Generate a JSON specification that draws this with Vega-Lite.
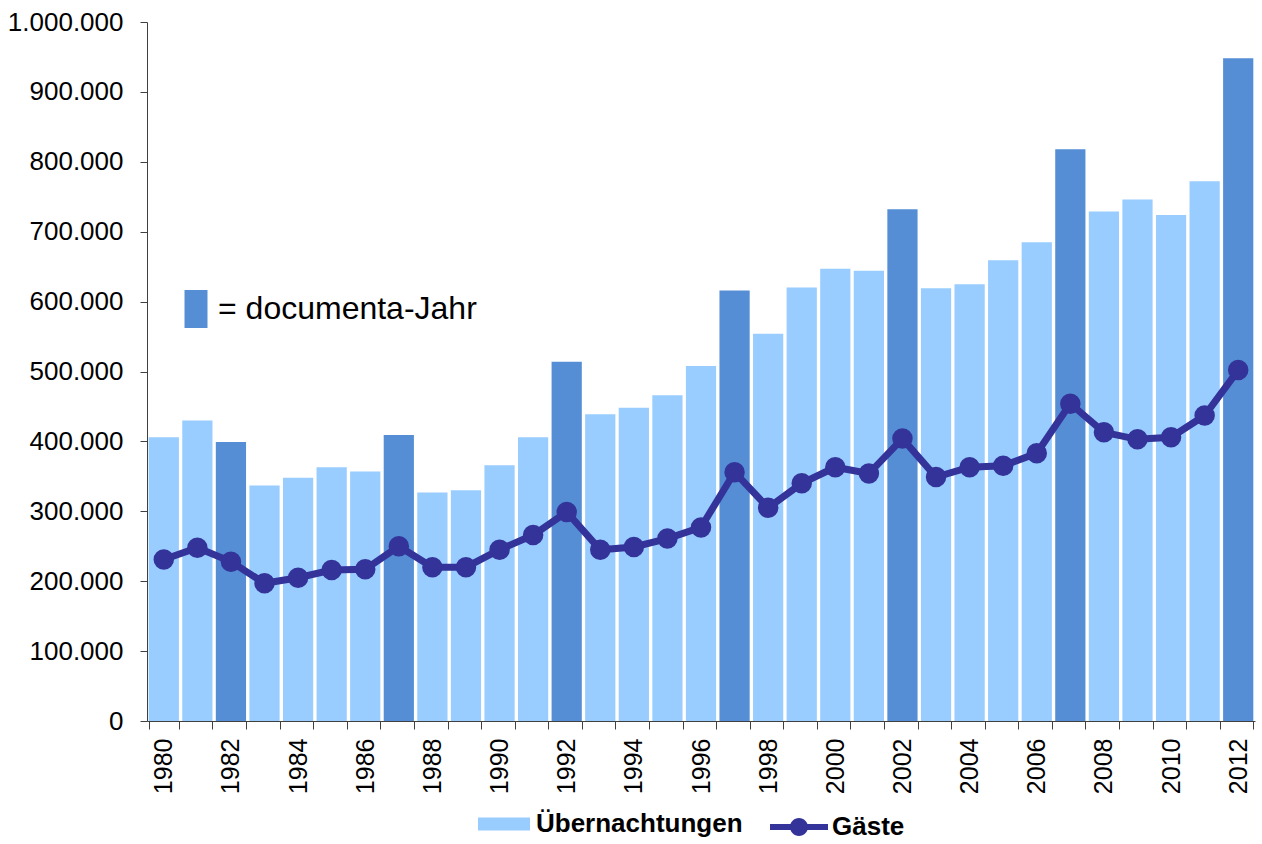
{
  "$schema": "https://vega.github.io/schema/vega-lite/v6.json",
  "width": 1108,
  "height": 699,
  "autosize": {"type": "none"},
  "padding": {"left": 147, "top": 22, "right": 7, "bottom": 123},
  "background": "white",
  "config": {
    "view": {"stroke": null},
    "font": "Liberation Sans",
    "axis": {"labelFont": "Liberation Sans", "labelColor": "#000000", "domainColor": "#404040", "tickColor": "#404040", "grid": false},
    "legend": {"labelFont": "Liberation Sans", "labelColor": "#000000", "padding": 0, "titlePadding": 0, "labelLimit": 0}
  },
  "data": {
    "values": [
      {"jahr": 1980, "uebernachtungen": 406000, "gaeste": 231000, "documenta": false},
      {"jahr": 1981, "uebernachtungen": 430000, "gaeste": 248000, "documenta": false},
      {"jahr": 1982, "uebernachtungen": 399000, "gaeste": 228000, "documenta": true},
      {"jahr": 1983, "uebernachtungen": 337000, "gaeste": 197000, "documenta": false},
      {"jahr": 1984, "uebernachtungen": 348000, "gaeste": 205000, "documenta": false},
      {"jahr": 1985, "uebernachtungen": 363000, "gaeste": 216000, "documenta": false},
      {"jahr": 1986, "uebernachtungen": 357000, "gaeste": 217000, "documenta": false},
      {"jahr": 1987, "uebernachtungen": 409000, "gaeste": 250000, "documenta": true},
      {"jahr": 1988, "uebernachtungen": 327000, "gaeste": 220000, "documenta": false},
      {"jahr": 1989, "uebernachtungen": 330000, "gaeste": 220000, "documenta": false},
      {"jahr": 1990, "uebernachtungen": 366000, "gaeste": 245000, "documenta": false},
      {"jahr": 1991, "uebernachtungen": 406000, "gaeste": 266000, "documenta": false},
      {"jahr": 1992, "uebernachtungen": 514000, "gaeste": 299000, "documenta": true},
      {"jahr": 1993, "uebernachtungen": 439000, "gaeste": 245000, "documenta": false},
      {"jahr": 1994, "uebernachtungen": 448000, "gaeste": 249000, "documenta": false},
      {"jahr": 1995, "uebernachtungen": 466000, "gaeste": 261000, "documenta": false},
      {"jahr": 1996, "uebernachtungen": 508000, "gaeste": 277000, "documenta": false},
      {"jahr": 1997, "uebernachtungen": 616000, "gaeste": 356000, "documenta": true},
      {"jahr": 1998, "uebernachtungen": 554000, "gaeste": 305000, "documenta": false},
      {"jahr": 1999, "uebernachtungen": 620000, "gaeste": 340000, "documenta": false},
      {"jahr": 2000, "uebernachtungen": 647000, "gaeste": 363000, "documenta": false},
      {"jahr": 2001, "uebernachtungen": 644000, "gaeste": 354000, "documenta": false},
      {"jahr": 2002, "uebernachtungen": 732000, "gaeste": 404000, "documenta": true},
      {"jahr": 2003, "uebernachtungen": 619000, "gaeste": 349000, "documenta": false},
      {"jahr": 2004, "uebernachtungen": 625000, "gaeste": 363000, "documenta": false},
      {"jahr": 2005, "uebernachtungen": 659000, "gaeste": 365000, "documenta": false},
      {"jahr": 2006, "uebernachtungen": 685000, "gaeste": 383000, "documenta": false},
      {"jahr": 2007, "uebernachtungen": 818000, "gaeste": 454000, "documenta": true},
      {"jahr": 2008, "uebernachtungen": 729000, "gaeste": 413000, "documenta": false},
      {"jahr": 2009, "uebernachtungen": 746000, "gaeste": 403000, "documenta": false},
      {"jahr": 2010, "uebernachtungen": 724000, "gaeste": 406000, "documenta": false},
      {"jahr": 2011, "uebernachtungen": 772000, "gaeste": 437000, "documenta": false},
      {"jahr": 2012, "uebernachtungen": 948000, "gaeste": 502000, "documenta": true}
    ]
  },
  "encoding": {
    "x": {
      "field": "jahr",
      "type": "ordinal",
      "scale": {"paddingInner": 0.1, "paddingOuter": 0.05},
      "axis": {
        "title": null,
        "tickBand": "extent",
        "labelAngle": -90,
        "labelAlign": "right",
        "labelBaseline": "middle",
        "labelExpr": "datum.value % 2 === 0 ? datum.label : ''",
        "labelOverlap": false,
        "tickSize": 8,
        "labelPadding": 9,
        "labelFontSize": 25
      }
    }
  },
  "layer": [
    {
      "transform": [{"filter": "!datum.documenta"}],
      "mark": {"type": "bar"},
      "encoding": {
        "y": {
          "field": "uebernachtungen",
          "type": "quantitative",
          "scale": {"domain": [0, 1000000], "nice": false},
          "axis": {
            "title": null,
            "values": [0, 100000, 200000, 300000, 400000, 500000, 600000, 700000, 800000, 900000, 1000000],
            "labelExpr": "replace(format(datum.value, ',d'), regexp(',', 'g'), '.')",
            "tickSize": 7,
            "labelPadding": 17,
            "labelFontSize": 26
          }
        },
        "color": {
          "datum": "Übernachtungen",
          "scale": {"range": ["#99CCFF"]},
          "legend": {
            "title": null,
            "orient": "none",
            "legendX": 331,
            "legendY": 776,
            "symbolType": "M-1,-0.25H1V0.25H-1Z",
            "symbolSize": 2704,
            "symbolStrokeWidth": 0,
            "labelFontSize": 26,
            "labelFontWeight": "bold",
            "labelOffset": 6,
            "labelLimit": 0
          }
        }
      }
    },
    {
      "transform": [{"filter": "datum.documenta"}],
      "mark": {"type": "bar"},
      "encoding": {
        "y": {
          "field": "uebernachtungen",
          "type": "quantitative",
          "scale": {"domain": [0, 1000000], "nice": false},
          "axis": {
            "title": null,
            "values": [0, 100000, 200000, 300000, 400000, 500000, 600000, 700000, 800000, 900000, 1000000],
            "labelExpr": "replace(format(datum.value, ',d'), regexp(',', 'g'), '.')",
            "tickSize": 7,
            "labelPadding": 17,
            "labelFontSize": 26
          }
        },
        "color": {
          "datum": "= documenta-Jahr",
          "scale": {"range": ["#558ED5"]},
          "legend": {
            "title": null,
            "orient": "none",
            "legendX": 30,
            "legendY": 268,
            "symbolType": "M-0.605,-1H0.605V1H-0.605Z",
            "symbolSize": 1444,
            "symbolStrokeWidth": 0,
            "labelFontSize": 32,
            "labelOffset": 3,
            "labelLimit": 0
          }
        }
      }
    },
    {
      "mark": {"type": "line", "color": "#333399", "strokeWidth": 7},
      "encoding": {
        "y": {
          "field": "gaeste",
          "type": "quantitative",
          "scale": {"domain": [0, 1000000], "nice": false},
          "axis": {
            "title": null,
            "values": [0, 100000, 200000, 300000, 400000, 500000, 600000, 700000, 800000, 900000, 1000000],
            "labelExpr": "replace(format(datum.value, ',d'), regexp(',', 'g'), '.')",
            "tickSize": 7,
            "labelPadding": 17,
            "labelFontSize": 26
          }
        }
      }
    },
    {
      "mark": {"type": "point", "filled": true, "size": 420, "opacity": 1, "shape": "circle"},
      "encoding": {
        "y": {
          "field": "gaeste",
          "type": "quantitative",
          "scale": {"domain": [0, 1000000], "nice": false},
          "axis": {
            "title": null,
            "values": [0, 100000, 200000, 300000, 400000, 500000, 600000, 700000, 800000, 900000, 1000000],
            "labelExpr": "replace(format(datum.value, ',d'), regexp(',', 'g'), '.')",
            "tickSize": 7,
            "labelPadding": 17,
            "labelFontSize": 26
          }
        },
        "color": {
          "datum": "Gäste",
          "scale": {"range": ["#333399"]},
          "legend": {
            "title": null,
            "orient": "none",
            "legendX": 623,
            "legendY": 776,
            "symbolType": "M-1,-0.1H1V0.1H-1Z M-0.31,0A0.31,0.31 0 1,1 0.31,0A0.31,0.31 0 1,1 -0.31,0Z",
            "symbolSize": 3364,
            "symbolStrokeWidth": 0,
            "symbolOpacity": 1,
            "labelFontSize": 26,
            "labelFontWeight": "bold",
            "labelOffset": 4,
            "labelLimit": 0
          }
        }
      }
    }
  ],
  "resolve": {"scale": {"color": "independent"}}
}
